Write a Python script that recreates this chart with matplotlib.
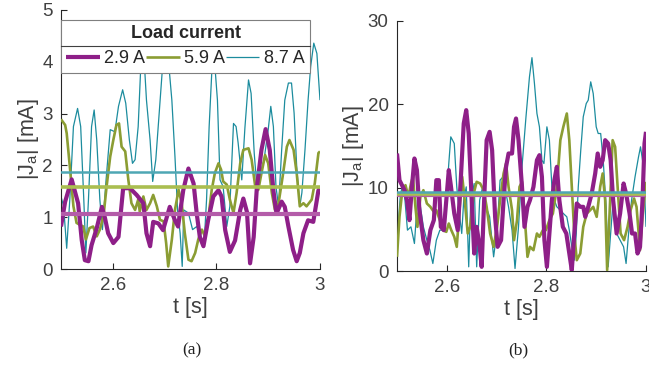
import matplotlib
matplotlib.use("Agg")
import matplotlib.pyplot as plt
from matplotlib.lines import Line2D

# ---------------- data: panel (a) ----------------
a_t_29 = [2.5, 2.508, 2.5206, 2.533, 2.540, 2.546, 2.553, 2.559, 2.569, 2.579, 2.585, 2.591, 2.601,
          2.611, 2.620, 2.633, 2.646, 2.659, 2.665, 2.672, 2.678, 2.688, 2.697, 2.710, 2.72, 2.726,
          2.736, 2.746, 2.756, 2.762, 2.768, 2.775, 2.784, 2.794, 2.804, 2.810, 2.817, 2.826, 2.836,
          2.846, 2.852, 2.859, 2.865, 2.872, 2.878, 2.887, 2.895, 2.903, 2.910, 2.916, 2.926, 2.932,
          2.939, 2.948, 2.955, 2.961, 2.968, 2.977, 2.987, 2.997, 3.0]
a_y_29 = [0.82, 1.30, 1.73, 1.27, 0.56, 0.17, 0.15, 0.46, 0.79, 1.20, 0.98, 0.69, 0.50,
          0.62, 1.56, 1.56, 1.43, 1.27, 0.69, 0.44, 0.91, 0.88, 0.75, 1.20, 0.94, 0.82,
          1.52, 1.94, 1.65, 1.07, 0.62, 0.44, 0.94, 1.40, 1.52, 1.40, 0.75, 0.33, 0.55,
          1.14, 1.36, 1.10, 0.11, 0.62, 1.56, 2.30, 2.70, 2.30, 1.52, 1.07, 1.30, 1.20,
          0.82, 0.37, 0.15, 0.31, 0.69, 0.94, 0.91, 1.52, 1.55]

a_t_59 = [2.5, 2.508, 2.511, 2.517, 2.524, 2.530, 2.537, 2.543, 2.548, 2.555, 2.562, 2.569, 2.575,
          2.582, 2.588, 2.595, 2.601, 2.607, 2.612, 2.617, 2.624, 2.630, 2.636, 2.643, 2.649, 2.652,
          2.659, 2.665, 2.672, 2.678, 2.685, 2.691, 2.698, 2.703, 2.707, 2.714, 2.720, 2.727, 2.733,
          2.739, 2.746, 2.752, 2.759, 2.765, 2.772, 2.778, 2.784, 2.791, 2.797, 2.804, 2.809, 2.813,
          2.820, 2.826, 2.833, 2.839, 2.846, 2.852, 2.862, 2.868, 2.875, 2.881, 2.887, 2.894, 2.900,
          2.907, 2.913, 2.920, 2.928, 2.936, 2.941, 2.949, 2.955, 2.961, 2.968, 2.974, 2.984, 2.990,
          2.997, 3.0]
a_y_59 = [2.89, 2.78, 2.62, 1.98, 1.21, 0.89, 0.85, 0.82, 0.57, 0.79, 0.82, 0.63, 0.76,
          1.02, 1.59, 2.17, 2.49, 2.78, 2.81, 2.36, 2.27, 1.72, 1.27, 1.14, 1.34, 1.11,
          1.40, 1.14, 1.27, 1.43, 1.21, 0.95, 0.92, 0.50, 0.05, 0.57, 1.14, 1.53, 1.27,
          0.69, 0.18, 0.15, 0.31, 0.57, 0.76, 0.63, 0.95, 1.53, 1.85, 2.04, 1.92, 1.69,
          1.63, 1.34, 1.08, 1.47, 2.04, 2.30, 2.33, 2.11, 1.59, 1.53, 1.85, 2.20, 2.04,
          1.47, 1.14, 1.27, 1.79, 2.36, 2.49, 2.30, 1.85, 1.21, 1.27, 1.21, 1.34, 1.66,
          2.24, 2.27]

a_t_87 = [2.5, 2.505, 2.511, 2.517, 2.524, 2.532, 2.538, 2.544, 2.548, 2.553, 2.559, 2.564, 2.569,
          2.575, 2.580, 2.587, 2.595, 2.604, 2.611, 2.619, 2.625, 2.632, 2.638, 2.643, 2.649, 2.654,
          2.659, 2.665, 2.672, 2.677, 2.683, 2.690, 2.696, 2.701, 2.709, 2.714, 2.720, 2.725, 2.730,
          2.734, 2.737, 2.746, 2.754, 2.762, 2.768, 2.776, 2.781, 2.786, 2.791, 2.795, 2.802, 2.807,
          2.813, 2.820, 2.826, 2.833, 2.838, 2.842, 2.849, 2.855, 2.862, 2.867, 2.873, 2.879, 2.885,
          2.892, 2.900, 2.905, 2.910, 2.915, 2.920, 2.926, 2.932, 2.939, 2.945, 2.950, 2.955, 2.961,
          2.965, 2.971, 2.977, 2.982, 2.988, 2.994, 3.0]
a_y_87 = [1.40, 1.21, 0.40, 1.34, 2.75, 3.10, 2.75, 1.34, 0.31, 1.34, 2.75, 3.07, 2.49,
          1.34, 0.76, 1.72, 2.69, 2.65, 3.14, 3.46, 3.20, 2.49, 2.04, 2.11, 2.75, 3.91,
          4.30, 3.26, 2.49, 1.69, 2.11, 3.07, 3.90, 4.20, 3.84, 3.26, 2.17, 1.14, 0.69,
          0.05, 1.14, 1.08, 0.76, 0.82, 0.69, 0.44, 1.34, 2.75, 3.78, 4.20, 3.26, 1.72,
          1.59, 0.82, 1.21, 2.81, 2.75, 2.43, 1.72, 2.72, 3.65, 3.39, 2.24, 1.47, 1.85,
          2.11, 2.69, 3.14, 2.75, 1.59, 1.21, 2.30, 3.26, 3.59, 3.59, 3.01, 1.98, 1.21,
          1.47, 2.30, 3.26, 3.91, 4.36, 4.16, 3.26]

a_means = [1.06, 1.58, 1.88]   # 2.9 A, 5.9 A, 8.7 A

# ---------------- data: panel (b) ----------------
b_t_29 = [2.5, 2.505, 2.510, 2.515, 2.520, 2.525, 2.530, 2.535, 2.540, 2.545, 2.553, 2.560, 2.567,
          2.574, 2.579, 2.584, 2.588, 2.594, 2.599, 2.604, 2.608, 2.615, 2.622, 2.628, 2.634, 2.639,
          2.644, 2.650, 2.655, 2.660, 2.666, 2.670, 2.675, 2.680, 2.686, 2.691, 2.697, 2.702, 2.709,
          2.714, 2.719, 2.724, 2.731, 2.735, 2.739, 2.744, 2.751, 2.756, 2.762, 2.767, 2.774, 2.781,
          2.786, 2.791, 2.796, 2.801, 2.806, 2.811, 2.816, 2.821, 2.826, 2.833, 2.840, 2.846, 2.851,
          2.856, 2.861, 2.868, 2.874, 2.878, 2.884, 2.891, 2.898, 2.903, 2.908, 2.913, 2.918, 2.924,
          2.929, 2.934, 2.941, 2.948, 2.955, 2.960, 2.967, 2.972, 2.978, 2.983, 2.988, 2.993, 2.997, 3.0]
b_y_29 = [14.1, 10.9, 10.3, 9.7, 8.5, 6.1, 10.1, 13.5, 12.1, 7.3, 3.7, 2.1, 4.9,
          6.1, 10.9, 10.9, 5.3, 4.9, 8.5, 12.1, 10.3, 6.9, 4.9, 10.9, 17.7, 19.3,
          16.5, 8.5, 2.1, 5.3, 2.9, 0.5, 8.5, 15.7, 16.7, 14.5, 6.5, 2.9, 3.7,
          8.5, 12.5, 14.1, 14.1, 17.3, 18.3, 15.7, 10.1, 5.3, 7.7, 8.5, 10.1, 13.3,
          13.9, 11.3, 3.7, 0.5, 4.5, 8.5, 10.9, 12.5, 8.5, 5.3, 4.5, 2.1, 0.1,
          4.5, 8.1, 7.7, 7.7, 6.5, 7.7, 9.3, 11.7, 14.1, 12.5, 13.3, 15.7, 15.3,
          13.3, 8.5, 4.5, 6.9, 10.5, 9.3, 6.9, 4.5, 4.5, 2.1, 2.9, 8.5, 15.3, 16.7]

b_t_59 = [2.5, 2.505, 2.510, 2.517, 2.523, 2.528, 2.532, 2.537, 2.541, 2.547, 2.553, 2.560, 2.567,
          2.574, 2.579, 2.586, 2.592, 2.599, 2.604, 2.609, 2.615, 2.620, 2.626, 2.631, 2.636, 2.642,
          2.647, 2.654, 2.660, 2.667, 2.674, 2.680, 2.687, 2.694, 2.701, 2.707, 2.714, 2.719, 2.724,
          2.731, 2.735, 2.741, 2.746, 2.751, 2.756, 2.762, 2.767, 2.774, 2.781, 2.786, 2.793, 2.799,
          2.806, 2.813, 2.821, 2.828, 2.834, 2.841, 2.846, 2.851, 2.856, 2.861, 2.868, 2.874, 2.881,
          2.888, 2.894, 2.901, 2.908, 2.913, 2.918, 2.922, 2.928, 2.933, 2.938, 2.943, 2.949, 2.956,
          2.963, 2.969, 2.976, 2.981, 2.988, 2.993, 3.0]
b_y_59 = [1.7, 6.5, 9.3, 10.3, 8.9, 10.5, 11.3, 7.7, 5.3, 8.9, 9.7, 8.1, 7.7,
          7.1, 7.3, 6.1, 4.9, 4.7, 5.7, 4.9, 4.1, 2.9, 7.7, 11.3, 8.5, 4.5,
          5.3, 9.3, 10.7, 10.5, 9.7, 7.7, 4.5, 2.9, 5.3, 8.5, 11.7, 12.9, 10.1,
          7.3, 3.7, 6.1, 10.1, 10.7, 6.9, 1.7, 2.9, 2.5, 4.5, 4.1, 4.9, 4.9,
          6.1, 6.9, 10.1, 15.7, 17.3, 18.9, 15.7, 10.1, 4.5, 1.3, 2.1, 5.3, 6.9,
          7.3, 7.7, 6.5, 10.1, 11.7, 8.5, 0.1, 8.5, 15.7, 14.9, 10.1, 4.5, 3.7,
          5.3, 7.3, 8.7, 7.7, 2.5, 6.5, 10.7]

b_t_87 = [2.5, 2.507, 2.512, 2.516, 2.521, 2.528, 2.535, 2.541, 2.547, 2.553, 2.560, 2.566, 2.572,
          2.579, 2.586, 2.592, 2.599, 2.604, 2.608, 2.615, 2.620, 2.626, 2.630, 2.634, 2.639, 2.644,
          2.648, 2.655, 2.660, 2.666, 2.672, 2.679, 2.686, 2.694, 2.701, 2.707, 2.713, 2.719, 2.724,
          2.731, 2.737, 2.744, 2.751, 2.759, 2.766, 2.771, 2.776, 2.781, 2.786, 2.791, 2.795, 2.801,
          2.806, 2.811, 2.816, 2.821, 2.828, 2.834, 2.841, 2.846, 2.851, 2.856, 2.860, 2.864, 2.869,
          2.874, 2.880, 2.884, 2.889, 2.894, 2.900, 2.904, 2.909, 2.914, 2.920, 2.924, 2.929, 2.934,
          2.941, 2.948, 2.955, 2.960, 2.965, 2.971, 2.978, 2.985, 2.989, 2.995, 3.0]
b_y_87 = [3.7, 9.3, 10.3, 8.5, 4.9, 5.3, 3.3, 8.5, 7.7, 5.3, 3.7, 2.5, 0.9,
          3.7, 4.9, 4.9, 8.5, 12.9, 16.1, 15.3, 10.1, 6.5, 4.5, 8.5, 10.1, 0.5,
          8.5, 10.5, 0.5, 8.5, 10.1, 7.7, 6.5, 1.7, 4.9, 10.9, 11.3, 9.3, 7.7,
          4.9, 0.3, 5.3, 12.5, 18.5, 23.3, 25.6, 22.5, 18.9, 17.3, 13.3, 12.9, 17.3,
          15.7, 10.1, 8.5, 7.7, 7.3, 6.9, 6.5, 4.9, 2.9, 1.3, 4.5, 10.1, 14.5,
          18.5, 20.1, 20.5, 22.7, 21.3, 17.3, 16.5, 16.5, 13.3, 7.7, 0.5, 4.5, 8.5,
          4.5, 3.7, 2.9, 0.9, 4.5, 8.5, 11.3, 13.7, 14.9, 12.5, 5.3]

b_means = [9.1, 9.3, 9.45]   # 2.9 A, 5.9 A, 8.7 A

labels = ["2.9 A", "5.9 A", "8.7 A"]
legend_title = "Load current"
x_ticks = [2.6, 2.8, 3.0]
x_ticklabels = ["2.6", "2.8", "3"]
a_yticks = [0, 1, 2, 3, 4, 5]
b_yticks = [0, 10, 20, 30]

# ---------------- style ----------------
colors = ["#8E1F88", "#8B9D33", "#1C8C9E"]
mean_colors = ["#B45CA9", "#AABE50", "#4EA7B4"]
lws = [3.0, 1.9, 0.9]
mean_lws = [3.0, 2.6, 1.8]
txt = "#404040"

plt.rcParams['font.family'] = ['Liberation Sans', 'DejaVu Sans']

fig = plt.figure(figsize=(6.49, 3.65), dpi=100)
W, H = 649, 365
axA = fig.add_axes([61 / W, 1 - 269 / H, (320 - 61) / W, (269 - 10) / H])
axB = fig.add_axes([397 / W, 1 - 271 / H, (646 - 397) / W, (271 - 21) / H])

panelA = [(a_t_29, a_y_29), (a_t_59, a_y_59), (a_t_87, a_y_87)]
panelB = [(b_t_29, b_y_29), (b_t_59, b_y_59), (b_t_87, b_y_87)]

def style(ax, yticks, ylim):
    ax.set_xlim(2.5, 3.0)
    ax.set_ylim(*ylim)
    ax.set_xticks(x_ticks)
    ax.set_xticklabels(x_ticklabels)
    ax.set_yticks(yticks)
    for s in ["top", "right"]:
        ax.spines[s].set_visible(False)
    for s in ["left", "bottom"]:
        ax.spines[s].set_color("#262626")
        ax.spines[s].set_linewidth(0.8)
    ax.tick_params(direction="in", length=4, width=0.8, colors="#262626",
                   labelcolor=txt, labelsize=13.5, pad=6)
    ax.set_xlabel("t [s]", fontsize=15.5, color=txt, labelpad=2)
    ax.set_ylabel("|J$_\\mathregular{a}$| [mA]", fontsize=15.5, color=txt, labelpad=1)

handles = []
for ax, panel, means in [(axA, panelA, a_means), (axB, panelB, b_means)]:
    hs = [None, None, None]
    for i in [2, 1, 0]:
        tt, yy = panel[i]
        hs[i], = ax.plot(tt, yy, color=colors[i], lw=lws[i], solid_joinstyle="round",
                         solid_capstyle="butt", zorder=2 + (2 - i))
    for i in [0, 1, 2]:
        ax.axhline(means[i], color=mean_colors[i], lw=mean_lws[i], zorder=6 + i)
    handles.append(hs)

style(axA, a_yticks, (0, 5))
style(axB, b_yticks, (0, 30))

leg = axA.legend(handles[0], labels, title=legend_title, ncol=3, mode="expand",
                 loc="upper left", bbox_to_anchor=(0.0, 0.962, 0.962, 0.0),
                 fontsize=13, title_fontproperties={"weight": "bold", "size": 13},
                 frameon=True, fancybox=False, edgecolor="#7f7f7f", framealpha=1.0,
                 handlelength=1.85, handletextpad=0.25, columnspacing=0.4,
                 borderpad=0.3, borderaxespad=0.0, labelspacing=0.45)
leg.get_frame().set_linewidth(0.8)
leg.set_zorder(20)
for t in leg.get_texts():
    t.set_color("#262626")
leg.get_title().set_color("#262626")

# separator between title and entries, placed midway between them
fig.canvas.draw()
tb = leg.get_title().get_window_extent()
eb = leg.get_texts()[0].get_window_extent()
ymid_disp = 0.5 * (tb.y0 + eb.y1)
fb = leg.get_frame().get_window_extent()
inv = axA.transAxes.inverted()
x0a, ya = inv.transform((fb.x0, ymid_disp))
x1a, _ = inv.transform((fb.x1, ymid_disp))
axA.add_line(Line2D([x0a, x1a], [ya, ya], transform=axA.transAxes,
                    color="#404040", lw=0.8, zorder=25, clip_on=False))

fig.text(192 / W, 1 - 350 / H, "(a)", ha="center", va="center", fontsize=12.5,
         family=["Liberation Serif", "DejaVu Serif"], color="#202020")
fig.text(518 / W, 1 - 350 / H, "(b)", ha="center", va="center", fontsize=12.5,
         family=["Liberation Serif", "DejaVu Serif"], color="#202020")

fig.savefig("out.png", dpi=100)
